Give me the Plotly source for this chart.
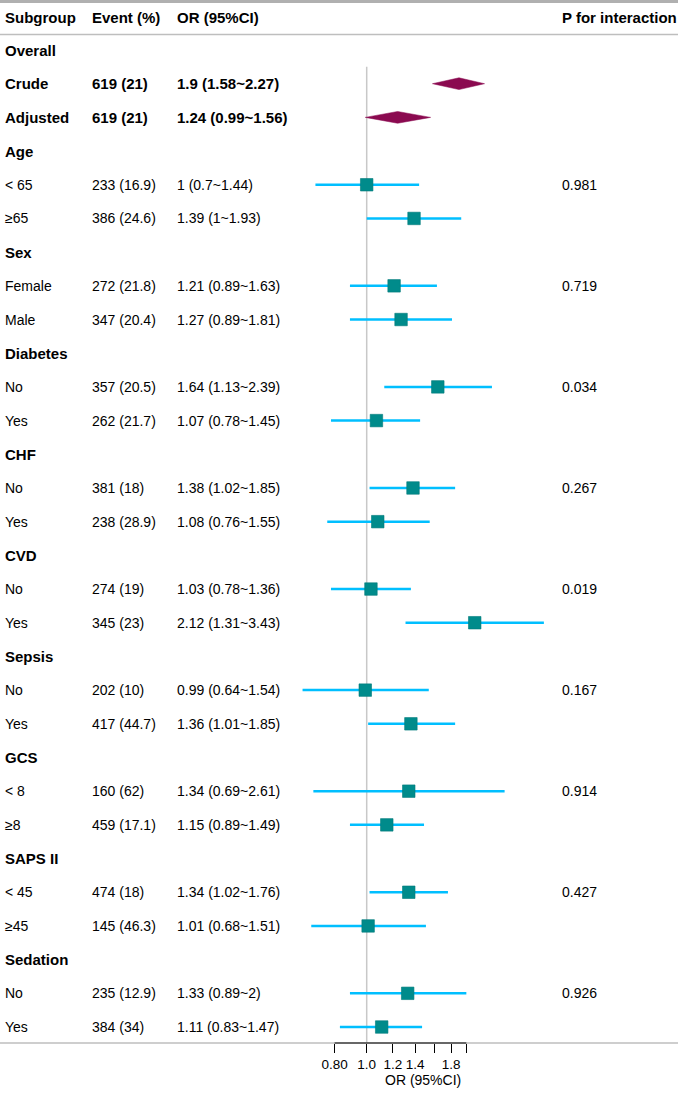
import numpy as np
import plotly.graph_objects as go

# ---------------- data ----------------
subgroups = ["Overall", "Crude", "Adjusted",
             "Age", "< 65", "≥65",
             "Sex", "Female", "Male",
             "Diabetes", "No", "Yes",
             "CHF", "No", "Yes",
             "CVD", "No", "Yes",
             "Sepsis", "No", "Yes",
             "GCS", "< 8", "≥8",
             "SAPS II", "< 45", "≥45",
             "Sedation", "No", "Yes"]
row_type = ["group", "overall", "overall",
            "group", "sub", "sub",
            "group", "sub", "sub",
            "group", "sub", "sub",
            "group", "sub", "sub",
            "group", "sub", "sub",
            "group", "sub", "sub",
            "group", "sub", "sub",
            "group", "sub", "sub",
            "group", "sub", "sub"]
event_n = [None, 619, 619,
           None, 233, 386,
           None, 272, 347,
           None, 357, 262,
           None, 381, 238,
           None, 274, 345,
           None, 202, 417,
           None, 160, 459,
           None, 474, 145,
           None, 235, 384]
event_pct = [None, 21, 21,
             None, 16.9, 24.6,
             None, 21.8, 20.4,
             None, 20.5, 21.7,
             None, 18, 28.9,
             None, 19, 23,
             None, 10, 44.7,
             None, 62, 17.1,
             None, 18, 46.3,
             None, 12.9, 34]
or_est = [None, 1.9, 1.24,
          None, 1, 1.39,
          None, 1.21, 1.27,
          None, 1.64, 1.07,
          None, 1.38, 1.08,
          None, 1.03, 2.12,
          None, 0.99, 1.36,
          None, 1.34, 1.15,
          None, 1.34, 1.01,
          None, 1.33, 1.11]
or_lo = [None, 1.58, 0.99,
         None, 0.7, 1,
         None, 0.89, 0.89,
         None, 1.13, 0.78,
         None, 1.02, 0.76,
         None, 0.78, 1.31,
         None, 0.64, 1.01,
         None, 0.69, 0.89,
         None, 1.02, 0.68,
         None, 0.89, 0.83]
or_hi = [None, 2.27, 1.56,
         None, 1.44, 1.93,
         None, 1.63, 1.81,
         None, 2.39, 1.45,
         None, 1.85, 1.55,
         None, 1.36, 3.43,
         None, 1.54, 1.85,
         None, 2.61, 1.49,
         None, 1.76, 1.51,
         None, 2, 1.47]
p_interaction = ["", "", "",
                 "", "0.981", "",
                 "", "0.719", "",
                 "", "0.034", "",
                 "", "0.267", "",
                 "", "0.019", "",
                 "", "0.167", "",
                 "", "0.914", "",
                 "", "0.427", "",
                 "", "0.926", ""]
headers = ["Subgroup", "Event (%)", "OR (95%CI)", "P for interaction"]
tick_vals = [0.8, 1.0, 1.2, 1.4, 1.6, 1.8, 2.0]
tick_text = ["0.80", "1.0", "1.2", "1.4", "", "1.8", ""]
ref_value = 1.0
x_title = "OR (95%CI)"

# ---------------- layout constants ----------------
W, H = 678, 1093
FONT = "Liberation Sans"
ROW_PX0, ROW_STEP = 50.0, 33.69      # pixel y of row 0 and spacing
PLOT_BOTTOM = 1043.0                 # pixel y of bottom axis line
k_top = -ROW_PX0 / ROW_STEP
k_bot = (PLOT_BOTTOM - ROW_PX0) / ROW_STEP
PX_REF, PX_PER_DEC = 366.7, 331.0
x_range = [-PX_REF / PX_PER_DEC, (W - PX_REF) / PX_PER_DEC]
col_x = [3, 89.5, 175, 560]
k_header = (17.8 - ROW_PX0) / ROW_STEP
GRAY = "#BEBEBE"


def fmt(v):
    return f"{v:g}"


def py(px):
    """pixel y -> paper y"""
    return 1 - px / H


def px_of(v):
    """data value on the log axis -> paper x (same mapping as x_range)"""
    return (np.log10(v) - x_range[0]) / (x_range[1] - x_range[0])


n = len(subgroups)
ks = list(range(n))

fig = go.Figure()

# CI lines
cx, cy = [], []
for k in ks:
    if row_type[k] == "sub":
        cx += [or_lo[k], or_hi[k], None]
        cy += [k, k, None]
fig.add_trace(go.Scatter(x=cx, y=cy, mode="lines",
                         line=dict(color="#00BFFF", width=2.5),
                         hoverinfo="skip"))

# squares
sx = [or_est[k] for k in ks if row_type[k] == "sub"]
sy = [k for k in ks if row_type[k] == "sub"]
fig.add_trace(go.Scatter(x=sx, y=sy, mode="markers",
                         marker=dict(symbol="square", size=12.5, color="#008B8B",
                                     line=dict(width=0.6, color="#007A7A"))))

# diamonds for overall rows
DH = 0.175
for k in ks:
    if row_type[k] == "overall":
        fig.add_trace(go.Scatter(
            x=[or_lo[k], or_est[k], or_hi[k], or_est[k], or_lo[k]],
            y=[k, k - DH, k, k + DH, k],
            mode="lines", fill="toself", fillcolor="#8B0A50",
            line=dict(color="#8B0A50", width=0.5), hoverinfo="skip"))

annotations = []


def add_text(x_px, k, text, bold):
    annotations.append(dict(
        x=x_px / W, xref="paper", y=k, yref="y", text=text,
        xanchor="left", yanchor="middle", showarrow=False,
        font=dict(family=FONT, size=15 if bold else 14, color="black",
                  weight="bold" if bold else "normal")))


for c, h in zip(col_x, headers):
    add_text(c, k_header, h, True)

for k in ks:
    bold = row_type[k] != "sub"
    add_text(col_x[0], k, subgroups[k], bold)
    if event_n[k] is not None:
        add_text(col_x[1], k, f"{event_n[k]} ({fmt(event_pct[k])})", bold)
        add_text(col_x[2], k,
                 f"{fmt(or_est[k])} ({fmt(or_lo[k])}~{fmt(or_hi[k])})", bold)
    if p_interaction[k]:
        add_text(col_x[3], k, p_interaction[k], False)

# x axis title
annotations.append(dict(x=423.5 / W, xref="paper", y=py(1079.5), yref="paper",
                        text=x_title, showarrow=False, xanchor="center",
                        yanchor="middle",
                        font=dict(family=FONT, size=14, color="black")))

shapes = [
    # top thick line
    dict(type="line", xref="paper", yref="paper", x0=0, x1=1,
         y0=py(1.5), y1=py(1.5), line=dict(color="#B0B0B0", width=3)),
    # header underline
    dict(type="line", xref="paper", yref="paper", x0=0, x1=1,
         y0=py(34.5), y1=py(34.5), line=dict(color=GRAY, width=1.5)),
    # bottom line
    dict(type="line", xref="paper", yref="paper", x0=0, x1=1,
         y0=py(PLOT_BOTTOM), y1=py(PLOT_BOTTOM),
         line=dict(color=GRAY, width=1.5)),
    # reference line (beneath the marks)
    dict(type="line", xref="paper", yref="paper", x0=px_of(ref_value),
         x1=px_of(ref_value), y0=py(ROW_PX0 + 0.5 * ROW_STEP),
         y1=py(PLOT_BOTTOM), line=dict(color="#C8C8C8", width=1.5),
         layer="below"),
    # black axis segment
    dict(type="line", xref="paper", yref="paper", x0=px_of(min(tick_vals)),
         x1=px_of(max(tick_vals)), y0=py(PLOT_BOTTOM), y1=py(PLOT_BOTTOM),
         line=dict(color="black", width=1)),
]

fig.update_layout(
    width=W, height=H, margin=dict(l=0, r=0, t=0, b=0),
    paper_bgcolor="white", plot_bgcolor="white", showlegend=False,
    template=None,
    annotations=annotations, shapes=shapes,
    xaxis=dict(type="log", range=x_range, domain=[0, 1], showgrid=False,
               zeroline=False, showline=False, ticks="outside", ticklen=9,
               tickwidth=1, tickcolor="black", tickvals=tick_vals,
               ticktext=tick_text, tickangle=0, automargin=False,
               tickfont=dict(family=FONT, size=13.5, color="black"),
               fixedrange=True),
    yaxis=dict(range=[k_bot, k_top], domain=[py(PLOT_BOTTOM), 1],
               visible=False, showgrid=False, zeroline=False,
               automargin=False, fixedrange=True),
)

fig.write_html("out.html")
